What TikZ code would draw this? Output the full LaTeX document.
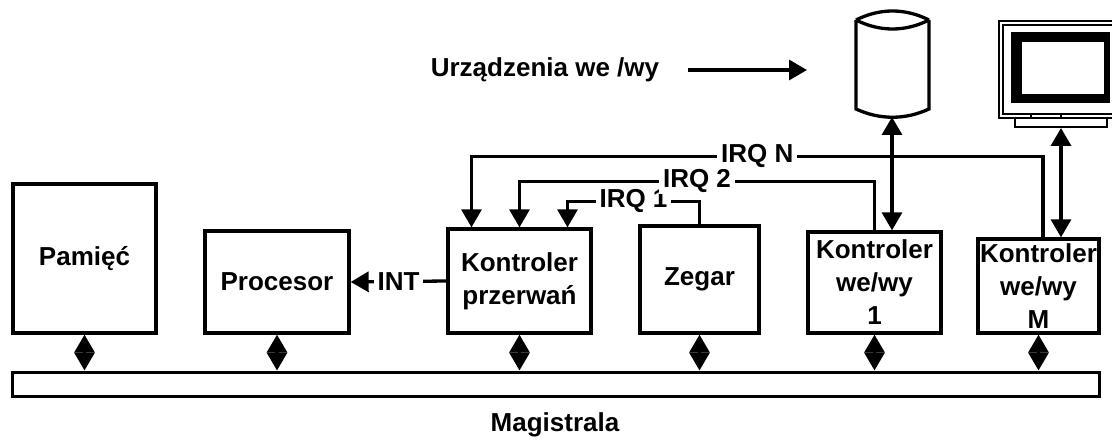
\documentclass[tikz,border=0pt]{standalone}
\usepackage{fontspec}
\setmainfont{Liberation Sans}
\usetikzlibrary{arrows.meta}
\tikzset{
  blok/.style={draw, line width=3.3pt, align=center, inner sep=0pt},
  lin/.style={line width=3.3pt},
  grot/.style={-{Triangle[length=18pt,width=20pt]}},
  dwugrot/.style={{Triangle[length=18pt,width=20pt]}-{Triangle[length=18pt,width=20pt]}},
  etyk/.style={fill=white, inner xsep=4pt, inner ysep=1pt}
}
\begin{document}
\begin{tikzpicture}[x=1pt,y=-1pt,font=\fontsize{26}{33}\selectfont\bfseries]
    \useasboundingbox (0,0) rectangle (1112,441);
    \node[blok, minimum width=143, minimum height=149] (pam) at (84.5,258.5) {Pamięć};
    \node[blok, minimum width=144, minimum height=102] (proc) at (277,282) {Procesor};
    \node[blok, minimum width=143, minimum height=104] (kp) at (519.5,281) {Kontroler\\przerwań};
    \node[blok, minimum width=119, minimum height=107] (zeg) at (699.5,279.5) {Zegar};
    \node[blok, minimum width=133, minimum height=101] (k1) at (874.5,282.5) {Kontroler\\we/wy\\1};
    \node[blok, minimum width=121, minimum height=94] (kM) at (1038.5,286) {Kontroler\\we/wy\\M};
    \node[blok, line width=3pt, minimum width=1087, minimum height=24] (bus) at (555.5,384) {};
    \node (mag) at (555,425) {Magistrala};
    \node (urz) at (545,70) {Urządzenia we /wy};
    \coordinate (urzkon) at (807,70);
    \draw[lin] (856,20) .. controls (880,8) and (905,8) .. (929,20);
    \draw[lin] (856,20) .. controls (880,32) and (905,32) .. (929,20);
    \draw[lin] (856,20) -- (856,109) .. controls (880,120) and (905,120) .. (929,109) -- (929,20);
    \coordinate (dysk) at (892,117);
    \draw[line width=2pt] (1116,21) -| (999,118) -- (1116,118);
    \draw[line width=2pt] (1116,25) -| (1003,114) -- (1116,114);
    \fill (1011,32) rectangle (1110,103);
    \fill[white] (1022,42) rectangle (1104,94);
    \draw[line width=2pt] (1031,114) -- (1031,118);
    \draw[line width=2pt] (1061,114) -- (1061,118);
    \node[draw, line width=2pt, minimum width=92, minimum height=9, inner sep=0pt] (stopka) at (1061,122.5) {};
    \draw[lin, grot] ([xshift=25pt]urz.east) -- (urzkon);
    \draw[lin, dwugrot] (dysk) -- (dysk |- k1.north);
    \draw[lin, dwugrot] (stopka.south) -- (stopka.south |- kM.north);
    \draw[lin, grot] (zeg.north) -- ++(0,-23) -| node[pos=0.25, etyk] {IRQ 1} ([xshift=48pt]kp.north);
    \draw[lin, grot] (k1.north) -- ++(0,-49) -| node[pos=0.25, etyk] {IRQ 2} (kp.north);
    \draw[lin, grot] ([xshift=4.5pt]kM.north) -- ++(0,-81) -| node[pos=0.25, etyk] {IRQ N} ([xshift=-48pt]kp.north);
    \draw[lin, grot] (kp.west) -- node[etyk] {INT} (proc.east);
    \draw[lin, dwugrot] (pam.south) -- (pam.south |- bus.north);
    \draw[lin, dwugrot] (proc.south) -- (proc.south |- bus.north);
    \draw[lin, dwugrot] (kp.south) -- (kp.south |- bus.north);
    \draw[lin, dwugrot] (zeg.south) -- (zeg.south |- bus.north);
    \draw[lin, dwugrot] (k1.south) -- (k1.south |- bus.north);
    \draw[lin, dwugrot] (kM.south) -- (kM.south |- bus.north);
\end{tikzpicture}
\end{document}
